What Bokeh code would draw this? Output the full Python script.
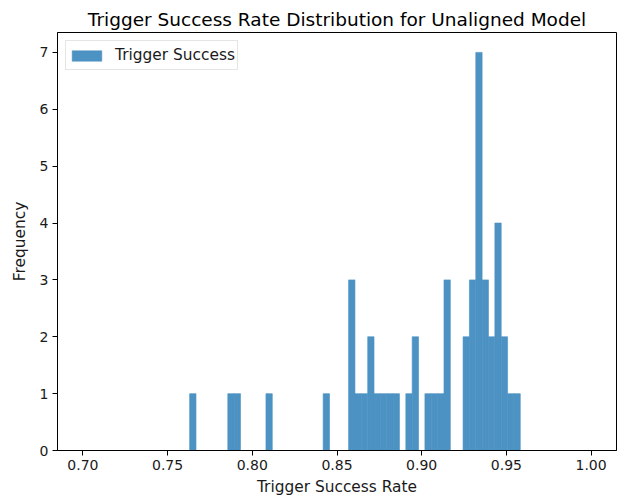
import numpy as np
from bokeh.plotting import figure
from bokeh.models import Range1d, FixedTicker, NumeralTickFormatter
from bokeh.embed import file_html
from bokeh.resources import INLINE

# Histogram data
bin_low = 0.7630
bin_high = 0.9582
counts = [1, 0, 0, 0, 0, 0, 1, 1, 0, 0,
          0, 0, 1, 0, 0, 0, 0, 0, 0, 0,
          0, 1, 0, 0, 0, 3, 1, 1, 2, 1,
          1, 1, 1, 0, 1, 2, 0, 1, 1, 1,
          3, 0, 0, 2, 3, 7, 3, 2, 4, 2,
          1, 1]
x_ticks = [0.70, 0.75, 0.80, 0.85, 0.90, 0.95, 1.00]
y_ticks = [0, 1, 2, 3, 4, 5, 6, 7]
title_text = "Trigger Success Rate Distribution for Unaligned Model"
x_label = "Trigger Success Rate"
y_label = "Frequency"
legend_text = "Trigger Success"

edges = np.linspace(bin_low, bin_high, len(counts) + 1)
nonzero = [i for i, c in enumerate(counts) if c > 0]
lefts = [edges[i] for i in nonzero]
rights = [edges[i + 1] for i in nonzero]
tops = [counts[i] for i in nonzero]

FONT = "DejaVu Sans"
BAR = "#4c92c3"  # tab:blue at 0.8 alpha over white

p = figure(
    output_backend="svg", toolbar_location=None,
    frame_width=559, frame_height=418,
    min_border_left=57, min_border_right=5,
    min_border_top=32, min_border_bottom=50,
    x_range=Range1d(0.685, 1.015), y_range=Range1d(0, 7.35),
    title=title_text,
)
p.title.align = "center"
p.title.text_font = FONT
p.title.text_font_size = "18.5px"
p.title.text_font_style = "normal"
p.title.text_color = "black"
p.title.standoff = 6

p.quad(left=lefts, right=rights, top=tops, bottom=0,
       fill_color=BAR, fill_alpha=1.0, line_color=BAR, line_width=0.6,
       legend_label=legend_text)

p.xgrid.visible = False
p.ygrid.visible = False
p.outline_line_color = "black"
p.outline_line_width = 1
p.background_fill_color = "white"
p.border_fill_color = "white"

for ax in (p.xaxis[0], p.yaxis[0]):
    ax.axis_line_color = "black"
    ax.major_tick_line_color = "black"
    ax.minor_tick_line_color = None
    ax.major_tick_out = 5
    ax.major_tick_in = 0
    ax.major_label_text_font = FONT
    ax.major_label_text_font_size = "14px"
    ax.major_label_text_color = "#1a1a1a"
    ax.axis_label_text_font = FONT
    ax.axis_label_text_font_size = "15.4px"
    ax.axis_label_text_font_style = "normal"
    ax.axis_label_text_color = "#1a1a1a"
    ax.major_label_standoff = 4

p.xaxis.ticker = FixedTicker(ticks=x_ticks)
p.xaxis.formatter = NumeralTickFormatter(format="0.00")
p.yaxis.ticker = FixedTicker(ticks=y_ticks)
p.xaxis.axis_label = x_label
p.yaxis.axis_label = y_label
p.xaxis.axis_label_standoff = 5
p.yaxis.axis_label_standoff = 8

lg = p.legend[0]
lg.location = "top_left"
lg.margin = 8
lg.padding = 2
lg.spacing = 0
lg.label_standoff = 10
lg.glyph_width = 37
lg.glyph_height = 13
lg.label_height = 24
lg.label_text_font = FONT
lg.label_text_font_size = "15.4px"
lg.label_text_color = "#1a1a1a"
lg.border_line_color = "#cccccc"
lg.border_line_width = 1
lg.background_fill_alpha = 0.8

open("out.html", "w").write(file_html(p, INLINE))
